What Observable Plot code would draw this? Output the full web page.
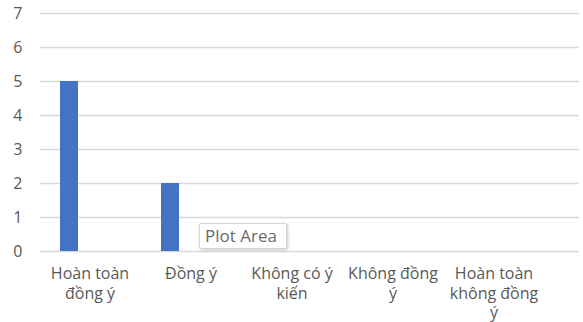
<!DOCTYPE html>
<html>
<head>
<meta charset="utf-8">
<script src="https://cdn.jsdelivr.net/npm/d3@7"></script>
<script src="https://cdn.jsdelivr.net/npm/@observablehq/plot@0.6"></script>
<style>
  body { margin: 0; background: #fff; }
  #chart { position: relative; width: 583px; height: 322px; overflow: hidden; }
  .tip {
    position: absolute; left: 199px; top: 223px; width: 88px; height: 26px;
    box-sizing: border-box; background: #fff; border: 1px solid #d6d6d6;
    box-shadow: 1px 1px 3px rgba(0,0,0,0.22); border-radius: 2px;
    font: 17px "Open Sans", sans-serif; color: #6a6a6a; line-height: 24px; padding-left: 5px;
    white-space: nowrap;
  }
</style>
</head>
<body>
<div id="chart"></div>
<script>
// Survey answers and how many respondents chose each one
const categories = ["Hoàn toàn đồng ý", "Đồng ý", "Không có ý kiến", "Không đồng ý", "Hoàn toàn không đồng ý"];
const counts = [5, 2, 0, 0, 0];
const tickLabels = ["Hoàn toàn\nđồng ý", "Đồng ý", "Không có ý\nkiến", "Không đồng\ný", "Hoàn toàn\nkhông đồng\ný"];
const yTicks = [0, 1, 2, 3, 4, 5, 6, 7];

const data = categories.map((c, i) => ({category: c, count: counts[i]}));

const chart = Plot.plot({
  width: 583,
  height: 322,
  marginLeft: 40,
  marginRight: 4,
  marginTop: 13,
  marginBottom: 71,
  style: {fontFamily: "'Open Sans', sans-serif", fontSize: "16px", color: "#595959", background: "transparent"},
  x: {domain: categories, range: [37, 545], padding: 0},
  y: {domain: [0, 7], ticks: yTicks},
  marks: [
    Plot.ruleY(yTicks, {stroke: "#d9d9d9", strokeWidth: 1.5}),
    Plot.barY(data, {x: "category", y: "count", fill: "#4472c4", insetLeft: 21, insetRight: 62}),
    Plot.axisY({ticks: yTicks, tickSize: 0, tickPadding: 18, fontSize: 16, label: null, tickFormat: d3.format("d")}),
    Plot.axisX({tickSize: 0, tickPadding: 14, fontSize: 16, lineHeight: 1.22, label: null,
      tickFormat: (d) => tickLabels[categories.indexOf(d)]})
  ]
});

const root = document.getElementById("chart");
root.appendChild(chart);
const tip = document.createElement("div");
tip.className = "tip";
tip.textContent = "Plot Area";
root.appendChild(tip);
</script>
</body>
</html>
